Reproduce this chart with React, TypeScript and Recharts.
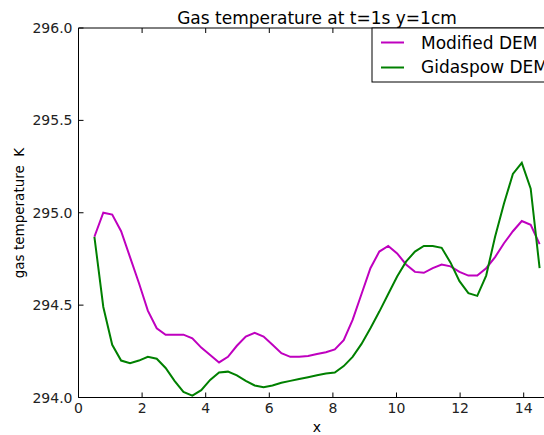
import { LineChart, Line, XAxis, YAxis } from "recharts";

// sample positions along x (cm)
const xs = [
  0.5, 0.78, 1.06, 1.34, 1.62, 1.9, 2.18, 2.46, 2.74, 3.02, 3.3, 3.58, 3.86, 4.14, 4.42, 4.7, 4.98,
  5.26, 5.54, 5.82, 6.1, 6.38, 6.66, 6.94, 7.22, 7.5, 7.78, 8.06, 8.34, 8.62, 8.9, 9.18, 9.46,
  9.74, 10.02, 10.3, 10.58, 10.86, 11.14, 11.42, 11.7, 11.98, 12.26, 12.54, 12.82, 13.1, 13.38,
  13.66, 13.94, 14.22, 14.5,
];

const modifiedDem = [
  294.87, 295.0, 294.99, 294.9, 294.76, 294.62, 294.47, 294.375, 294.34, 294.34, 294.34, 294.32,
  294.27, 294.23, 294.19, 294.22, 294.28, 294.33, 294.35, 294.33, 294.285, 294.24, 294.22, 294.22,
  294.225, 294.235, 294.245, 294.26, 294.31, 294.42, 294.56, 294.7, 294.79, 294.82, 294.78, 294.72,
  294.68, 294.675, 294.7, 294.72, 294.71, 294.68, 294.66, 294.66, 294.7, 294.76, 294.835, 294.9,
  294.955, 294.935, 294.83,
];

const gidaspowDem = [
  294.87, 294.49, 294.285, 294.2, 294.185, 294.2, 294.22, 294.21, 294.16, 294.09, 294.03, 294.01,
  294.04, 294.095, 294.135, 294.14, 294.12, 294.09, 294.065, 294.055, 294.065, 294.08, 294.09,
  294.1, 294.11, 294.12, 294.13, 294.135, 294.17, 294.22, 294.29, 294.375, 294.465, 294.56,
  294.655, 294.735, 294.79, 294.82, 294.82, 294.81, 294.73, 294.63, 294.565, 294.55, 294.66,
  294.87, 295.05, 295.21, 295.27, 295.13, 294.7,
];

const xTicks = [0, 2, 4, 6, 8, 10, 12, 14];
const yTicks = [294.0, 294.5, 295.0, 295.5, 296.0];

const data = xs.map((x, i) => ({ x, modified: modifiedDem[i], gidaspow: gidaspowDem[i] }));

const FONT = "'DejaVu Sans', sans-serif";
const MAGENTA = "#bf00bf";
const GREEN = "#008000";

const BottomTick = ({ x, y, payload }: any) => (
  <g>
    <line x1={x} x2={x} y1={y} y2={y - 5} stroke="#000" />
    <text x={x} y={y + 15.5} textAnchor="middle" fontSize={14} fill="#222" fontFamily={FONT}>
      {payload.value}
    </text>
  </g>
);

const TopTick = ({ x, y }: any) => <line x1={x} x2={x} y1={y} y2={y + 5} stroke="#000" />;

const LeftTick = ({ x, y, payload }: any) => (
  <g>
    <line x1={x} x2={x + 5} y1={y} y2={y} stroke="#000" />
    <text x={x - 6} y={y + 5} textAnchor="end" fontSize={14} fill="#222" fontFamily={FONT}>
      {payload.value.toFixed(1)}
    </text>
  </g>
);

export default function App() {
  return (
    <div style={{ position: "fixed", left: 0, top: 0, width: 544, height: 435, overflow: "hidden", background: "#fff" }}>
      <LineChart width={580} height={435} data={data} margin={{ top: 0, right: 24.5, bottom: 0, left: 0 }}>
        <XAxis
          dataKey="x"
          type="number"
          domain={[0, 15]}
          ticks={xTicks}
          allowDataOverflow
          height={37.5}
          tickSize={0}
          tickMargin={0}
          tickLine={false}
          axisLine={{ stroke: "#000" }}
          tick={<BottomTick />}
        />
        <XAxis
          xAxisId="top"
          orientation="top"
          dataKey="x"
          type="number"
          domain={[0, 15]}
          ticks={xTicks}
          allowDataOverflow
          height={28}
          tickSize={0}
          tickMargin={0}
          tickLine={false}
          axisLine={{ stroke: "#000" }}
          tick={<TopTick />}
        />
        <YAxis
          type="number"
          domain={[294, 296]}
          ticks={yTicks}
          allowDataOverflow
          width={78.5}
          tickSize={0}
          tickMargin={0}
          tickLine={false}
          axisLine={{ stroke: "#000" }}
          tick={<LeftTick />}
        />
        <Line dataKey="modified" stroke={MAGENTA} strokeWidth={2} dot={false} isAnimationActive={false} />
        <Line dataKey="gidaspow" stroke={GREEN} strokeWidth={2} dot={false} isAnimationActive={false} />
        <Line xAxisId="top" dataKey="gidaspow" stroke="none" dot={false} isAnimationActive={false} legendType="none" />
      </LineChart>
      <svg width={544} height={435} style={{ position: "absolute", left: 0, top: 0, pointerEvents: "none" }}>
        <text x={317} y={24} textAnchor="middle" fontSize={17} fill="#000" fontFamily={FONT}>
          Gas temperature at t=1s y=1cm
        </text>
        <text x={317} y={432} textAnchor="middle" fontSize={14} fill="#000" fontFamily={FONT}>
          x
        </text>
        <text
          x={24}
          y={213}
          transform="rotate(-90 24 213)"
          textAnchor="middle"
          fontSize={13.5}
          fill="#000"
          fontFamily={FONT}
          style={{ whiteSpace: "pre" }}
        >
          gas temperature  K
        </text>
        <rect x={372} y={28} width={176} height={54} fill="#fff" stroke="#000" />
        <line x1={381} x2={404} y1={42.5} y2={42.5} stroke={MAGENTA} strokeWidth={2} />
        <text x={421} y={48.5} fontSize={17} fill="#000" fontFamily={FONT}>
          Modified DEM
        </text>
        <line x1={381} x2={404} y1={67.5} y2={67.5} stroke={GREEN} strokeWidth={2} />
        <text x={421} y={73} fontSize={17} fill="#000" fontFamily={FONT}>
          Gidaspow DEM
        </text>
      </svg>
    </div>
  );
}
